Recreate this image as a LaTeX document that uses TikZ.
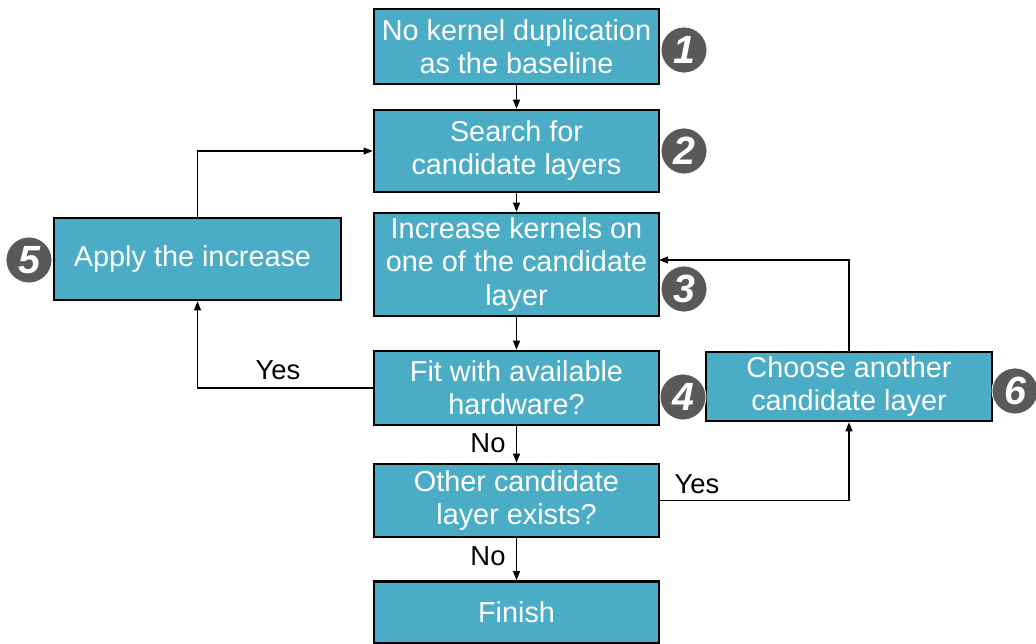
\documentclass[tikz,border=0pt]{standalone}
\usepackage{fontspec}
\setmainfont{Liberation Sans}
\usetikzlibrary{arrows.meta}

\tikzset{
  stepbox/.style={draw=black, line width=1.8pt, fill=boxTeal, text=white,
    minimum width=7.125cm, align=center, inner sep=0pt,
    font=\fontsize{20.5}{23.5}\selectfont},
  numdot/.style={circle, fill=dotGray, draw=white, line width=0.6pt,
    minimum size=1.15cm, inner sep=0pt, text=white,
    font=\fontsize{28}{28}\selectfont\bfseries\itshape},
  arr/.style={line width=0.8pt, -{Triangle[length=6.5pt,width=5pt]}},
  lbl/.style={font=\fontsize{19.5}{22}\selectfont}
}

\begin{document}
\begin{tikzpicture}[x=0.025cm,y=-0.025cm]
\definecolor{boxTeal}{RGB}{75,172,198}
\definecolor{dotGray}{RGB}{89,89,89}
\useasboundingbox (0,0) rectangle (1036,643);

% main column
\node[stepbox, minimum height=1.875cm] (base) at (516.5,46.5) {No kernel duplication\\as the baseline};
\node[stepbox, minimum height=2.05cm] (search) at (516.5,151) {Search for\\candidate layers};
\node[stepbox, minimum height=2.575cm] (incr) at (516.5,264.5) {Increase kernels on\\one of the candidate\\layer};
\node[stepbox, minimum height=1.85cm] (fit) at (516.5,388) {Fit with available\\hardware?};
\node[stepbox, minimum height=1.825cm] (other) at (516.5,500.5) {Other candidate\\layer exists?};
\node[stepbox, minimum height=1.55cm] (finish) at (516.5,612.5) {Finish};

% side boxes
\node[stepbox, minimum width=7.175cm, minimum height=2.05cm] (apply) at (197.5,259) {Apply the increase\rule{0pt}{1.2ex}\hspace*{0.25cm}};
\node[stepbox, minimum width=7.15cm, minimum height=1.725cm] (choose) at (849,386.5) {Choose another\\candidate layer};

% step numbers
\node[numdot] (n1) at (684,50) {1};
\node[numdot] (n2) at (684,151) {2};
\node[numdot] (n3) at (684,289) {3};
\node[numdot] (n4) at (683,397) {4};
\node[numdot] (n5) at (29,260) {5};
\node[numdot] (n6) at (1015,391) {6};

\coordinate (back) at (659,260);

% connectors
\draw[arr] (base) -- (search);
\draw[arr] (search) -- (incr);
\draw[arr] (incr) -- (fit);
\draw[arr] (fit) -- (other);
\draw[arr] (other) -- (finish);
\draw[arr] (fit.west) -| (apply.south);
\draw[arr] (apply.north) |- (search.west);
\draw[arr] (other.east) -| (choose.south);
\draw[arr] (choose.north) |- (back);

% branch labels
\node[lbl] (yes1) at (278,370) {Yes};
\node[lbl] (no1) at (488,443) {No};
\node[lbl] (yes2) at (697,484) {Yes};
\node[lbl] (no2) at (488,556) {No};
\end{tikzpicture}
\end{document}
